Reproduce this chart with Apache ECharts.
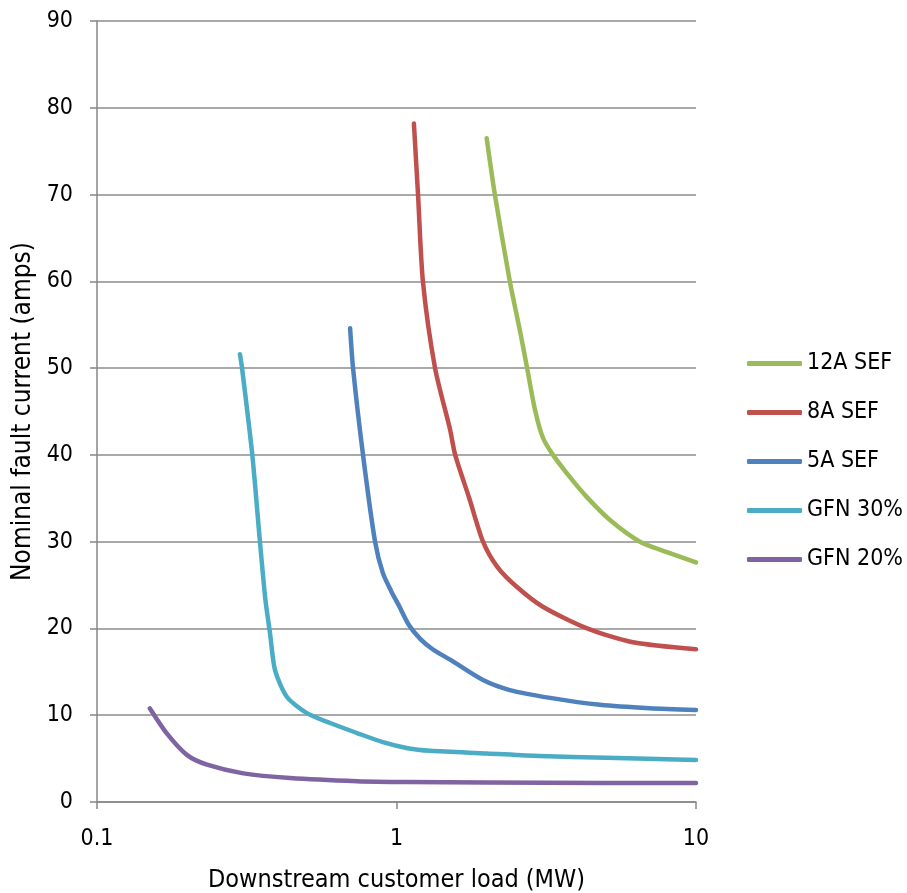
<!DOCTYPE html>
<html><head><meta charset="utf-8">
<script src="https://cdn.jsdelivr.net/npm/echarts@6/dist/echarts.min.js"></script>
<style>html,body{margin:0;padding:0;background:#fff}#c{width:907px;height:893px}</style>
</head><body><div id="c"></div>
<script>
var FONT = '"DejaVu Sans Condensed","DejaVu Sans",sans-serif';
var seriesNames = ['12A SEF', '8A SEF', '5A SEF', 'GFN 30%', 'GFN 20%'];
var seriesColors = ['#9BBB59', '#C0504D', '#4F81BD', '#4BACC6', '#8064A2'];
var xTickLabels = ['0.1', '1', '10'];
var yTicks = [0, 10, 20, 30, 40, 50, 60, 70, 80, 90];

var load12A = [2.0, 2.13, 2.39, 2.58, 2.73, 2.90, 3.08, 3.33, 3.8, 4.33, 5.16, 6.5, 8.0, 10];
var amps12A = [76.5, 70, 60, 54.4, 50, 45.2, 42, 40, 37.4, 35.1, 32.5, 30, 28.8, 27.6];

var load8A = [1.143, 1.18, 1.225, 1.345, 1.51, 1.57, 1.75, 1.945, 2.17, 2.52, 3.08, 4.33, 6.16, 10];
var amps8A = [78.2, 70, 60, 50, 42.9, 40, 35, 30, 27.1, 24.8, 22.5, 20, 18.4, 17.6];

var load5A = [0.70, 0.716, 0.773, 0.848, 0.90, 0.96, 1.02, 1.1, 1.2, 1.32, 1.51, 1.945, 2.39, 3.26, 4.78, 7.0, 10];
var amps5A = [54.6, 50, 40, 30, 26.4, 24.3, 22.6, 20.4, 18.8, 17.6, 16.4, 14.05, 12.9, 12.0, 11.2, 10.8, 10.6];

var loadG30 = [0.30, 0.305, 0.33, 0.35, 0.365, 0.378, 0.393, 0.431, 0.502, 0.60, 0.738, 0.90, 1.09, 1.3, 2.0, 3.0, 5.0, 10];
var ampsG30 = [51.6, 50, 40, 30, 23.3, 19.5, 15.2, 12.1, 10.25, 9.1, 7.95, 6.9, 6.2, 5.9, 5.6, 5.3, 5.1, 4.85];

var loadG20 = [0.15, 0.171, 0.20, 0.233, 0.308, 0.441, 0.738, 1.08, 2.0, 5.0, 10];
var ampsG20 = [10.8, 7.9, 5.4, 4.3, 3.3, 2.76, 2.4, 2.3, 2.25, 2.2, 2.2];

var loads = [load12A, load8A, load5A, loadG30, loadG20];
var amps = [amps12A, amps8A, amps5A, ampsG30, ampsG20];

function pairs(xs, ys) { return xs.map(function (x, i) { return [x, ys[i]]; }); }

var chart = echarts.init(document.getElementById('c'), null, { renderer: 'canvas' });
chart.setOption({
  animation: false,
  backgroundColor: '#fff',
  grid: { left: 97, right: 211, top: 21, bottom: 91, containLabel: false, outerBoundsMode: 'none' },
  legend: {
    orient: 'vertical', left: 747, top: 352, padding: 0,
    itemWidth: 55, itemHeight: 5, itemGap: 26, icon: 'roundRect',
    textStyle: { fontFamily: FONT, fontSize: 23, color: '#000' },
    data: seriesNames
  },
  xAxis: {
    type: 'log', logBase: 10, min: 0.1, max: 10,
    name: 'Downstream customer load (MW)', nameLocation: 'middle', nameGap: 66,
    nameTextStyle: { fontFamily: FONT, fontSize: 25, color: '#000' },
    axisLine: { show: true, lineStyle: { color: '#868686', width: 1.5 } },
    axisTick: { show: true, length: 7, lineStyle: { color: '#868686', width: 1.5 } },
    minorTick: { show: false }, minorSplitLine: { show: false },
    splitLine: { show: false },
    axisLabel: { fontFamily: FONT, fontSize: 23, color: '#000', margin: 26,
      formatter: function (v) { var s = String(+v.toPrecision(3)); return xTickLabels.indexOf(s) >= 0 ? s : ''; } }
  },
  yAxis: {
    type: 'value', min: 0, max: 90, interval: 10,
    name: 'Nominal fault current (amps)', nameLocation: 'middle', nameGap: 58, nameRotate: 90,
    nameTextStyle: { fontFamily: FONT, fontSize: 26, color: '#000' },
    axisLine: { show: true, lineStyle: { color: '#868686', width: 1.5 } },
    axisTick: { show: true, inside: false, length: 7, lineStyle: { color: '#868686', width: 1.5 } },
    splitLine: { show: true, lineStyle: { color: '#8c8c8c', width: 1.5 } },
    axisLabel: { fontFamily: FONT, fontSize: 23, color: '#000', margin: 24,
      formatter: function (v) { return yTicks.indexOf(v) >= 0 ? String(v) : ''; } }
  },
  series: seriesNames.map(function (n, i) {
    return {
      name: n, type: 'line', data: pairs(loads[i], amps[i]),
      showSymbol: false, symbol: 'none', smooth: 0.25,
      color: seriesColors[i],
      lineStyle: { color: seriesColors[i], width: 4.5, cap: 'round', join: 'round' }
    };
  })
});
</script></body></html>
